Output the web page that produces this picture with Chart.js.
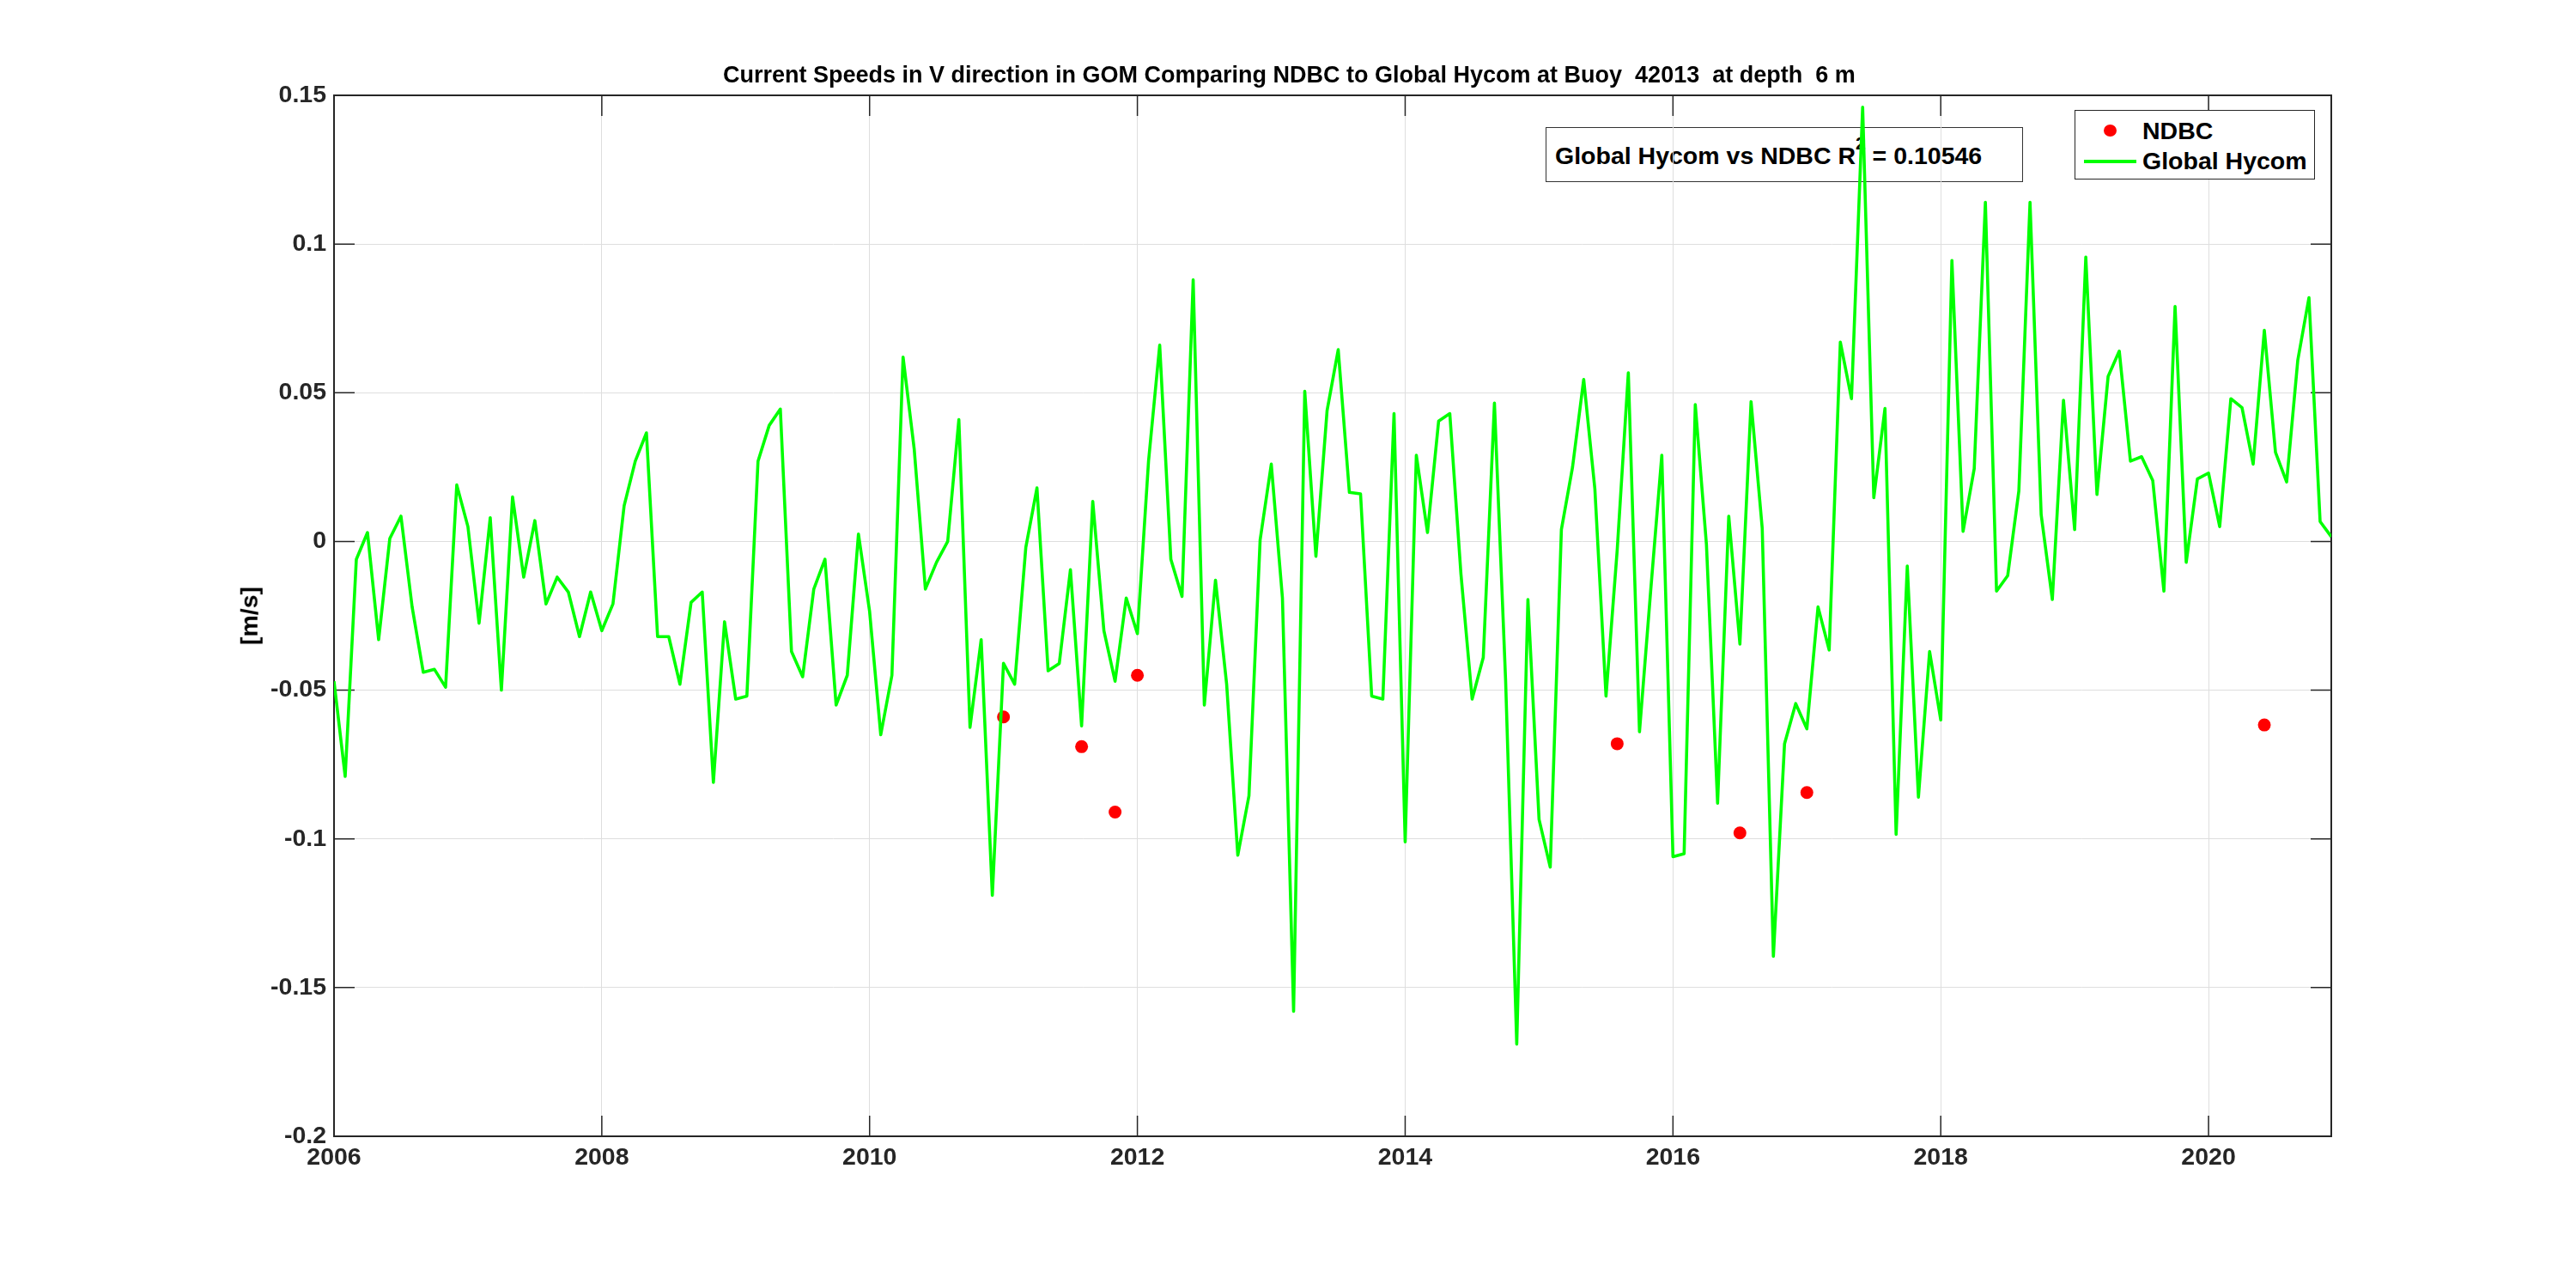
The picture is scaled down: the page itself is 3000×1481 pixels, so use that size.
<!DOCTYPE html>
<html>
<head>
<meta charset="utf-8">
<script src="https://cdn.jsdelivr.net/npm/chart.js@4.4.1/dist/chart.umd.min.js"></script>
<style>
html,body{margin:0;padding:0;background:#fff;}
#wrap{position:relative;width:3000px;height:1481px;overflow:hidden;background:#fff;
  font-family:'Liberation Sans',Arial,Helvetica,sans-serif;font-weight:bold;color:#000;}
#c{position:absolute;left:0;top:0;z-index:2;}
.txt{position:absolute;white-space:pre;}
#title{left:842px;top:74px;font-size:27px;line-height:27px;z-index:3;}
#ylab{left:290px;top:717px;font-size:28.5px;line-height:28.5px;transform:translate(-50%,-50%) rotate(-90deg);z-index:3;}
#r2box{position:absolute;left:1800px;top:148px;width:554px;height:62px;border:1.5px solid #333;z-index:1;}
#r2txt{left:10px;top:17.5px;font-size:28.5px;line-height:28.5px;}
#r2txt sup{font-size:21px;vertical-align:17px;line-height:0;}
#legend{position:absolute;left:2416px;top:128px;width:278px;height:79px;border:1.5px solid #262626;background:#fff;z-index:4;}
#legend .dot{position:absolute;left:33px;top:15.5px;width:15px;height:14px;border-radius:50%;background:#ff0000;}
#legend .ln{position:absolute;left:10px;top:56.5px;width:61px;height:4px;background:#00ff00;}
#legend .t1{left:78px;top:8.5px;font-size:28.5px;line-height:28.5px;}
#legend .t2{left:78px;top:43.5px;font-size:28.5px;line-height:28.5px;}
</style>
</head>
<body>
<div id="wrap">
  <div id="r2box"><div id="r2txt" class="txt">Global Hycom vs NDBC R<sup>2</sup> = 0.10546</div></div>
  <canvas id="c" width="3000" height="1481"></canvas>
  <div id="title" class="txt">Current Speeds in V direction in GOM Comparing NDBC to Global Hycom at Buoy  42013  at depth  6 m</div>
  <div id="ylab" class="txt">[m/s]</div>
  <div id="legend">
    <div class="dot"></div><div class="txt t1">NDBC</div>
    <div class="ln"></div><div class="txt t2">Global Hycom</div>
  </div>
</div>
<script>
// ---- data (monthly Global Hycom V velocity, Jan 2006 .. Dec 2020) ----
const startYear = 2006;
const hycomV = [
  -0.047,-0.079,-0.006,0.003,-0.033,0.001,0.0085,-0.022,-0.044,-0.043,-0.049,0.019,
  0.005,-0.0275,0.008,-0.050,0.015,-0.012,0.007,-0.021,-0.012,-0.017,-0.032,-0.017,
  -0.030,-0.021,0.012,0.027,0.0365,-0.032,-0.032,-0.048,-0.0205,-0.017,-0.081,-0.027,
  -0.053,-0.052,0.027,0.039,0.0445,-0.037,-0.0455,-0.016,-0.006,-0.055,-0.045,0.0025,
  -0.0235,-0.065,-0.045,0.062,0.031,-0.016,-0.007,0.0,0.041,-0.0625,-0.033,-0.119,
  -0.041,-0.048,-0.002,0.018,-0.0435,-0.041,-0.0095,-0.062,0.0135,-0.030,-0.047,-0.019,
  -0.031,0.027,0.066,-0.006,-0.0185,0.088,-0.055,-0.013,-0.048,-0.1055,-0.0855,0.0005,
  0.026,-0.019,-0.158,0.0505,-0.005,0.044,0.0645,0.0165,0.016,-0.052,-0.053,0.043,
  -0.101,0.029,0.003,0.0405,0.043,-0.011,-0.053,-0.039,0.0465,-0.0465,-0.169,-0.0195,
  -0.0935,-0.1095,0.004,0.025,0.0545,0.0177,-0.052,-0.003,0.0567,-0.064,-0.0167,0.029,
  -0.106,-0.105,0.046,-0.001,-0.088,0.0085,-0.0345,0.047,0.0044,-0.1395,-0.068,-0.0545,
  -0.063,-0.022,-0.0365,0.067,0.048,0.146,0.0147,0.0447,-0.0985,-0.0083,-0.086,-0.037,
  -0.060,0.0945,0.0034,0.0245,0.114,-0.0167,-0.0115,0.017,0.114,0.009,-0.0195,0.0475,
  0.004,0.0956,0.0158,0.0555,0.064,0.027,0.0285,0.0205,-0.0167,0.079,-0.007,0.021,
  0.023,0.005,0.048,0.045,0.026,0.071,0.030,0.020,0.061,0.082,0.0067,0.0016
];
const ndbcDates = ['2011-01','2011-08','2011-11','2012-01','2015-08','2016-07','2017-01','2020-06'];
const ndbcV = [-0.059,-0.069,-0.091,-0.045,-0.068,-0.098,-0.0844,-0.0617];
const xTickValues = [2006,2008,2010,2012,2014,2016,2018,2020];
const xTickLabels = ['2006','2008','2010','2012','2014','2016','2018','2020'];
const yTickValues = [-0.2,-0.15,-0.1,-0.05,0,0.05,0.1,0.15];
const yTickLabels = ['-0.2','-0.15','-0.1','-0.05','0','0.05','0.1','0.15'];

// ---- build library data ----
const monthToYear = s => { const p = s.split('-').map(Number); return p[0] + (p[1]-1)/12; };
const hycomPts = hycomV.map((v,i) => ({x: startYear + i/12, y: v}));
const ndbcPts = ndbcV.map((v,i) => ({x: monthToYear(ndbcDates[i]), y: v}));
const xMax = startYear + (hycomV.length-1)/12;

const FONT = "'Liberation Sans', Arial, Helvetica, sans-serif";
const AX = '#262626';

const axisFrame = {
  id: 'axisFrame',
  beforeDatasetsDraw(chart) {
    const {ctx, chartArea: a, scales: {x, y}} = chart;
    const tl = 24;
    ctx.save();
    ctx.strokeStyle = AX;
    ctx.lineWidth = 1.5;
    ctx.beginPath();
    xTickValues.forEach(v => {
      const px = x.getPixelForValue(v);
      ctx.moveTo(px, a.bottom); ctx.lineTo(px, a.bottom - tl);
      ctx.moveTo(px, a.top); ctx.lineTo(px, a.top + tl);
    });
    yTickValues.forEach(v => {
      const py = y.getPixelForValue(v);
      ctx.moveTo(a.left, py); ctx.lineTo(a.left + tl, py);
      ctx.moveTo(a.right, py); ctx.lineTo(a.right - tl, py);
    });
    ctx.stroke();
    ctx.lineWidth = 2;
    ctx.strokeRect(a.left, a.top, a.right - a.left, a.bottom - a.top);
    ctx.restore();
  }
};

new Chart(document.getElementById('c'), {
  type: 'line',
  data: {
    datasets: [
      {label: 'NDBC', type: 'scatter', data: ndbcPts, backgroundColor: '#ff0000', borderWidth: 0,
       pointRadius: 7.5, pointHoverRadius: 7.5, order: 2},
      {label: 'Global Hycom', data: hycomPts, borderColor: '#00ff00', borderWidth: 3.6,
       pointRadius: 0, tension: 0, fill: false, borderJoinStyle: 'round', order: 1}
    ]
  },
  options: {
    responsive: false,
    devicePixelRatio: 1,
    animation: false,
    layout: {padding: {top: 111, right: 285, left: 0, bottom: 0}},
    plugins: {legend: {display: false}, tooltip: {enabled: false}, title: {display: false}},
    scales: {
      x: {
        type: 'linear', min: startYear, max: xMax,
        afterBuildTicks: s => { s.ticks = xTickValues.map(v => ({value: v})); },
        afterFit: s => { s.height = 158; },
        grid: {color: '#dedede', lineWidth: 1, drawTicks: false},
        border: {display: false},
        ticks: {color: AX, padding: 8, maxRotation: 0, autoSkip: false,
          font: {family: FONT, size: 28.5, weight: 'bold'},
          callback: v => xTickLabels[xTickValues.indexOf(v)]}
      },
      y: {
        type: 'linear', min: -0.2, max: 0.15,
        afterBuildTicks: s => { s.ticks = yTickValues.map(v => ({value: v})); },
        afterFit: s => { s.width = 389; },
        grid: {color: '#dedede', lineWidth: 1, drawTicks: false},
        border: {display: false},
        ticks: {color: AX, padding: 9, autoSkip: false,
          font: {family: FONT, size: 28.5, weight: 'bold'},
          callback: v => yTickLabels[yTickValues.indexOf(v)]}
      }
    }
  },
  plugins: [axisFrame]
});
</script>
</body>
</html>
